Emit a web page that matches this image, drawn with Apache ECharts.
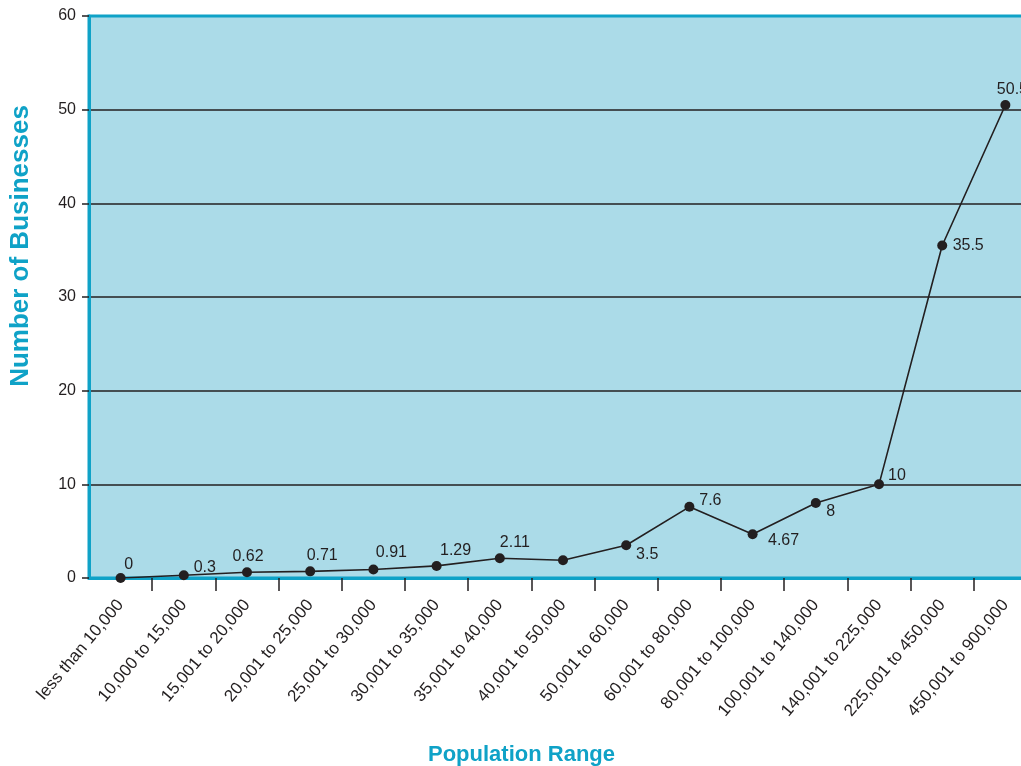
<!DOCTYPE html>
<html>
<head>
<meta charset="utf-8">
<script src="https://cdn.jsdelivr.net/npm/echarts@6/dist/echarts.min.js"></script>
<style>
html,body{margin:0;padding:0;background:#fff;overflow:hidden;}
#chart{width:1037px;height:766px;}
</style>
</head>
<body>
<div id="chart"></div>
<script>
const categories = [
  'less than 10,000', '10,000 to 15,000', '15,001 to 20,000', '20,001 to 25,000',
  '25,001 to 30,000', '30,001 to 35,000', '35,001 to 40,000', '40,001 to 50,000',
  '50,001 to 60,000', '60,001 to 80,000', '80,001 to 100,000', '100,001 to 140,000',
  '140,001 to 225,000', '225,001 to 450,000', '450,001 to 900,000'
];
const businesses = [0, 0.3, 0.62, 0.71, 0.91, 1.29, 2.11, 1.9, 3.5, 7.6, 4.67, 8, 10, 35.5, 50.5];
const pointLabels = ['0', '0.3', '0.62', '0.71', '0.91', '1.29', '2.11', '', '3.5', '7.6', '4.67', '8', '10', '35.5', '50.5'];
const yTicks = [0, 10, 20, 30, 40, 50, 60];

// label placement offsets (style, not data)
const labelOffsets = [
  [8, -13], [21, -8], [1, -16], [12, -16], [18, -17], [19, -15], [15, -16],
  [0, 0], [21, 9], [21, -6], [31, 6], [15, 9], [18, -9], [26, 0], [7, -15]
];

const CYAN = '#0fa2c7';
const INK = '#231f20';
const FONT = '"Liberation Sans", Arial, Helvetica, sans-serif';

const seriesData = businesses.map((v, i) => ({
  value: v,
  label: {
    show: pointLabels[i] !== '',
    formatter: pointLabels[i],
    position: 'inside',
    offset: labelOffsets[i],
    align: 'center',
    verticalAlign: 'middle'
  }
}));

const chart = echarts.init(document.getElementById('chart'), null, {renderer: 'canvas'});
chart.setOption({
  animation: false,
  backgroundColor: '#ffffff',
  title: {
    text: 'Population Range',
    left: 423,
    top: 739,
    textStyle: {color: CYAN, fontFamily: FONT, fontWeight: 'bold', fontSize: 22}
  },
  graphic: [{
    type: 'text',
    x: 21,
    y: 246,
    rotation: Math.PI / 2,
    style: {
      text: 'Number of Businesses',
      fill: CYAN,
      font: 'bold 26px ' + FONT,
      align: 'center',
      verticalAlign: 'middle'
    }
  }],
  grid: {
    left: 89, right: 0, top: 16, bottom: 188,
    show: true,
    backgroundColor: '#abdbe8',
    borderColor: CYAN,
    borderWidth: 3
  },
  xAxis: {
    type: 'category',
    data: categories,
    boundaryGap: true,
    axisLine: {show: true, lineStyle: {color: CYAN, width: 3}},
    axisTick: {
      show: true, inside: false, length: 13,
      interval: (i) => i > 0,
      lineStyle: {color: INK, width: 1.5}
    },
    axisLabel: {
      rotate: 50, margin: 24, interval: 0,
      color: INK, fontSize: 17, fontFamily: FONT
    },
    splitLine: {show: false}
  },
  yAxis: {
    type: 'value',
    min: yTicks[0], max: yTicks[yTicks.length - 1], interval: 10,
    axisLine: {show: true, lineStyle: {color: CYAN, width: 3}},
    axisTick: {show: true, inside: false, length: 7, lineStyle: {color: INK, width: 1.5}},
    axisLabel: {margin: 13, color: INK, fontSize: 16, fontFamily: FONT},
    splitLine: {show: true, showMinLine: false, showMaxLine: false, lineStyle: {color: INK, width: 1.5}}
  },
  series: [{
    type: 'line',
    data: seriesData,
    symbol: 'circle',
    symbolSize: 10,
    itemStyle: {color: INK},
    lineStyle: {color: INK, width: 1.6},
    label: {color: INK, fontSize: 16, fontFamily: FONT},
    z: 5
  }]
});
</script>
</body>
</html>
